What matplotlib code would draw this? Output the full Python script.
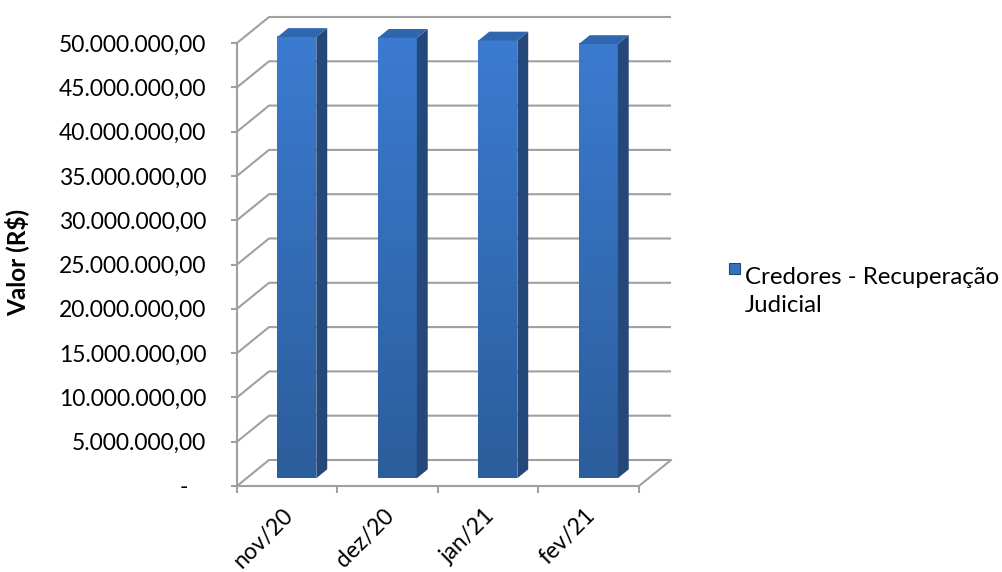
import matplotlib
matplotlib.use("Agg")
import matplotlib.pyplot as plt
import numpy as np
from matplotlib.patches import Polygon, Rectangle
from matplotlib.ticker import FixedLocator, FuncFormatter
from matplotlib.colors import LinearSegmentedColormap
import matplotlib.transforms as mtransforms

# ---- data ----
categories = ["nov/20", "dez/20", "jan/21", "fev/21"]
values = [49_800_000, 49_700_000, 49_400_000, 49_000_000]
y_ticks = [0, 5_000_000, 10_000_000, 15_000_000, 20_000_000, 25_000_000,
           30_000_000, 35_000_000, 40_000_000, 45_000_000, 50_000_000]
series_name = "Credores - Recuperação\nJudicial"
y_label = "Valor (R$)"

# ---- layout ----
W, H = 1003, 572
FONT = "Lato"
FS = 16.5
GRID = "#a0a0a0"

fig = plt.figure(figsize=(W / 100, H / 100), dpi=100)
fig.patch.set_facecolor("white")
L, B, R, T = 237, 486, 639, 43
ax = fig.add_axes([L / W, (H - B) / H, (R - L) / W, (B - T) / H])
n = len(categories)
ymax = y_ticks[-1]
ax.set_xlim(0, n)
ax.set_ylim(0, ymax)
ax.set_facecolor("none")

px_x = (R - L) / n          # pixels per category
px_y = (B - T) / ymax       # pixels per value unit
dx = 32 / px_x              # depth offset in data units
dy = 26 / px_y

# walls / gridlines
for v in y_ticks:
    ax.plot([0, dx, n + dx], [v, v + dy, v + dy], color=GRID, lw=1.5,
            clip_on=False, zorder=1, solid_capstyle="butt")
# floor right edge
ax.plot([n, n + dx], [0, dy], color=GRID, lw=1.5, clip_on=False, zorder=1)

# spines
for s in ["top", "right"]:
    ax.spines[s].set_visible(False)
for s in ["left", "bottom"]:
    ax.spines[s].set_color(GRID)
    ax.spines[s].set_linewidth(1.5)

ax.yaxis.set_major_locator(FixedLocator(y_ticks))
def fmt(v, pos):
    if v == 0:
        return "-   "
    s = f"{v:,.2f}"
    return s.replace(",", "X").replace(".", ",").replace("X", ".")
ax.yaxis.set_major_formatter(FuncFormatter(fmt))
ax.tick_params(axis="y", direction="out", length=4, width=1.5, color=GRID,
               pad=18, labelsize=FS)
for lab in ax.get_yticklabels():
    lab.set_fontfamily(FONT)
ax.set_xticks(np.arange(n + 1))
ax.set_xticklabels([])
ax.tick_params(axis="x", direction="out", length=5, width=1.5, color=GRID)

# category labels
off = mtransforms.offset_copy(ax.transData, fig=fig, x=2, y=-19, units="points")
for i, c in enumerate(categories):
    ax.text(i + 0.5, 0, c, transform=off, rotation=45, rotation_mode="anchor",
            ha="right", va="center", fontsize=FS, fontfamily=FONT, color="black")

# bars
bw = 0.388
f0, f1 = 0.30, 0.64
grad = np.linspace(0, 1, 256).reshape(-1, 1)
cmap = LinearSegmentedColormap.from_list("b", ["#2c5d9c", "#3b7bd0"])
for i, v in enumerate(values):
    x0 = i + (1 - bw) / 2 + f0 * dx
    yb = f0 * dy
    ddx = (f1 - f0) * dx
    ddy = (f1 - f0) * dy
    ax.imshow(grad, extent=[x0, x0 + bw, yb, yb + v], origin="lower",
              cmap=cmap, aspect="auto", zorder=3, clip_on=False)
    side = Polygon([(x0 + bw, yb), (x0 + bw + ddx, yb + ddy),
                    (x0 + bw + ddx, yb + ddy + v), (x0 + bw, yb + v)],
                   closed=True, facecolor="#24487a", edgecolor="none",
                   zorder=3, clip_on=False)
    top = Polygon([(x0, yb + v), (x0 + bw, yb + v), (x0 + bw + ddx, yb + ddy + v),
                   (x0 + ddx, yb + ddy + v)], closed=True, facecolor="#2f66ad",
                  edgecolor="none", zorder=3, clip_on=False)
    ax.add_patch(side)
    ax.add_patch(top)
ax.set_xlim(0, n)
ax.set_ylim(0, ymax)

# y label
fig.text(17 / W, 1 - 262 / H, y_label, rotation=90, ha="center", va="center",
         fontsize=17.5, fontweight="bold", fontfamily=FONT)

# legend
fig.add_artist(Rectangle((729 / W, 1 - 274 / H), 11 / W, 11 / H,
                         transform=fig.transFigure, facecolor="#3570bd",
                         edgecolor="#24487a", lw=0.8))
fig.text(745 / W, 1 - 277 / H, series_name.split("\n")[0], ha="left", va="center",
         fontsize=17.3, fontfamily=FONT)
fig.text(745 / W, 1 - 306 / H, series_name.split("\n")[1], ha="left", va="center",
         fontsize=17.3, fontfamily=FONT)

fig.savefig("out.png", dpi=100, facecolor="white")
